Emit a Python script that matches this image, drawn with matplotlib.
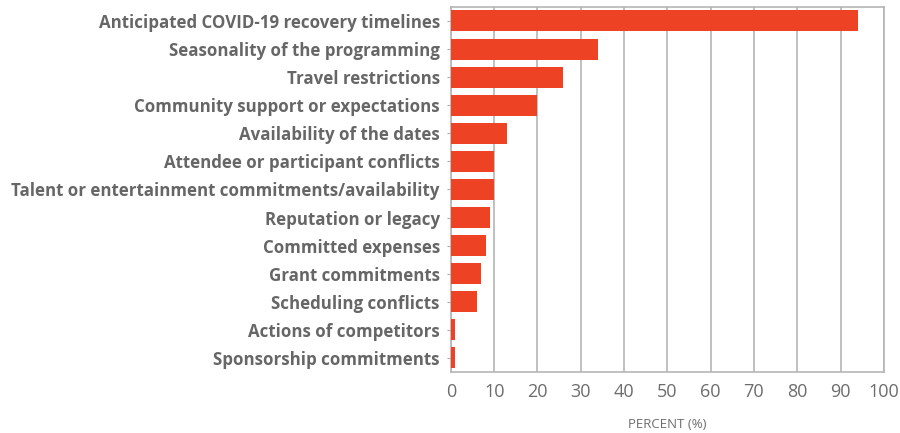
import matplotlib.pyplot as plt

categories = [
    'Anticipated COVID-19 recovery timelines',
    'Seasonality of the programming',
    'Travel restrictions',
    'Community support or expectations',
    'Availability of the dates',
    'Attendee or participant conflicts',
    'Talent or entertainment commitments/availability',
    'Reputation or legacy',
    'Committed expenses',
    'Grant commitments',
    'Scheduling conflicts',
    'Actions of competitors',
    'Sponsorship commitments',
]
percent = [94, 34, 26, 20, 13, 10, 10, 9, 8, 7, 6, 1, 1]
xticks = list(range(0, 101, 10))

plt.rcParams['font.family'] = ['Open Sans', 'DejaVu Sans']

fig = plt.figure(figsize=(9, 4.33), dpi=100)
ax = fig.add_axes([0.501, 0.141, 0.481, 0.843])

ax.barh(range(len(categories)), percent, height=0.75, color='#ee4224', zorder=3)

ax.set_xlim(0, 100)
ax.set_ylim(len(categories) - 0.5, -0.5)
ax.set_xticks(xticks)
ax.set_yticks(range(len(categories)))
ax.set_yticklabels(categories, fontsize=12.2, fontweight='bold', color='#666666')
ax.tick_params(axis='x', labelsize=13, colors='#6d6d6d', length=0, pad=8)
ax.tick_params(axis='y', length=3, color='#aaaaaa', pad=5)

ax.grid(axis='x', color='#b5b5b5', linewidth=1.2, zorder=0)
for s in ax.spines.values():
    s.set_color('#b5b5b5')
    s.set_linewidth(1.2)

ax.set_xlabel('PERCENT (%)', fontsize=9.5, color='#6d6d6d', labelpad=12)

fig.savefig('out.png', dpi=100)
